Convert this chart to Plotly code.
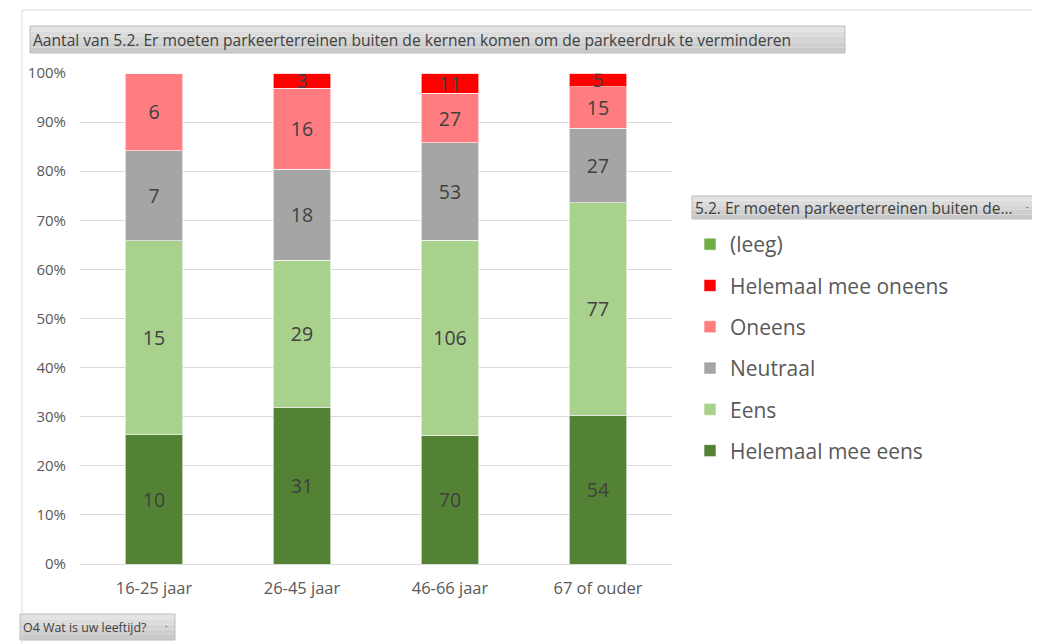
import plotly.graph_objects as go

# categories and counts
leeftijd = ["16-25 jaar", "26-45 jaar", "46-66 jaar", "67 of ouder"]
helemaal_eens = [10, 31, 70, 54]
eens = [15, 29, 106, 77]
neutraal = [7, 18, 53, 27]
oneens = [6, 16, 27, 15]
helemaal_oneens = [0, 3, 11, 5]
leeg = [0, 0, 0, 0]

# stacking order bottom -> top, legend rank top -> bottom
series = [
    ("Helemaal mee eens", helemaal_eens, "#548235", 6),
    ("Eens", eens, "#a9d18e", 5),
    ("Neutraal", neutraal, "#a5a5a5", 4),
    ("Oneens", oneens, "#ff7c80", 3),
    ("Helemaal mee oneens", helemaal_oneens, "#ff0000", 2),
    ("(leeg)", leeg, "#70ad47", 1),
]

FONT = "Open Sans"
OFF = 8  # page body margin
W, H = 1040 - OFF, 644 - OFF
L, R, T, B = 80 - OFF, 368, 73 - OFF, 80
PW, PH = W - L - R, H - T - B

def px(x):
    return (x - OFF - L) / PW

def py(y):
    return (H - B - (y - OFF)) / PH

fig = go.Figure()
for name, vals, color, rank in series:
    fig.add_trace(go.Bar(
        x=leeftijd, y=vals, name=name, marker_color=color,
        marker_line=dict(color="rgba(255,255,255,0.6)", width=1),
        text=[str(v) if v else "" for v in vals], textposition="inside",
        insidetextanchor="middle", textangle=0, constraintext="none",
        textfont=dict(family=FONT, size=19.5, color="#404040"),
        legendgroup=name, legendrank=rank,
    ))

grad = ["#e3e3e3", "#dcdcdc", "#d5d5d5", "#cecece", "#c9c9c9"]

def button(x0, x1, y0, y1):
    out = []
    n = len(grad)
    for k, c in enumerate(grad):
        out.append(dict(type="rect", xref="paper", yref="paper", x0=px(x0), x1=px(x1),
                        y0=py(y0 + (y1 - y0) * k / n), y1=py(y0 + (y1 - y0) * (k + 1) / n),
                        fillcolor=c, line=dict(width=0), layer="below"))
    out.append(dict(type="rect", xref="paper", yref="paper", x0=px(x0), x1=px(x1), y0=py(y0), y1=py(y1),
                    fillcolor="rgba(0,0,0,0)", line=dict(color="#bdbdbd", width=1), layer="below"))
    return out

shapes = [
    # outer frame
    dict(type="line", xref="paper", yref="paper", x0=px(22), x1=px(1040), y0=py(10), y1=py(10),
         line=dict(color="#d9d9d9", width=1)),
    dict(type="line", xref="paper", yref="paper", x0=px(22), x1=px(22), y0=py(10), y1=py(644),
         line=dict(color="#d9d9d9", width=1)),
]
shapes += button(30, 845, 26, 53)
shapes += button(692, 1036, 196, 219)
shapes += button(20, 175, 614, 640)

def button_text(text, x, y, size):
    return dict(text=text, xref="paper", yref="paper", x=px(x), y=py(y), xanchor="left",
                yanchor="middle", showarrow=False, font=dict(family=FONT, size=size, color="#404040"))

annotations = [
    button_text("Aantal van 5.2. Er moeten parkeerterreinen buiten de kernen komen om de parkeerdruk te verminderen", 31, 40, 15.6),
    button_text("5.2. Er moeten parkeerterreinen buiten de...", 693, 208, 15.5),
    button_text("O4 Wat is uw leeftijd?", 21, 627, 12.4),
    button_text("·", 1024, 207, 10),
    button_text("·", 163, 626, 10),
]

fig.update_layout(
    width=W, height=H,
    barmode="stack", barnorm="percent", bargap=0.61,
    margin=dict(l=L, r=R, t=T, b=B),
    paper_bgcolor="white", plot_bgcolor="white",
    font=dict(family=FONT, color="#595959"),
    shapes=shapes, annotations=annotations,
    legend=dict(
        xref="container", yref="container", x=(690 - OFF) / W, y=1 - (224 - OFF) / H,
        xanchor="left", yanchor="top", traceorder="grouped",
        tracegroupgap=11, font=dict(family=FONT, size=21, color="#595959"),
        bgcolor="rgba(0,0,0,0)",
    ),
    showlegend=True,
)
fig.update_xaxes(showgrid=False, showline=True, linecolor="#d9d9d9", linewidth=1,
                 tickfont=dict(family=FONT, size=16.5, color="#595959"), ticks="",
                 ticklabelstandoff=9)
fig.update_yaxes(range=[0, 100], dtick=10, ticksuffix="%", showgrid=True, gridcolor="#d9d9d9",
                 zeroline=False, tickfont=dict(family=FONT, size=15, color="#595959"), ticks="",
                 ticklabelstandoff=13)

fig.write_html("out.html")
